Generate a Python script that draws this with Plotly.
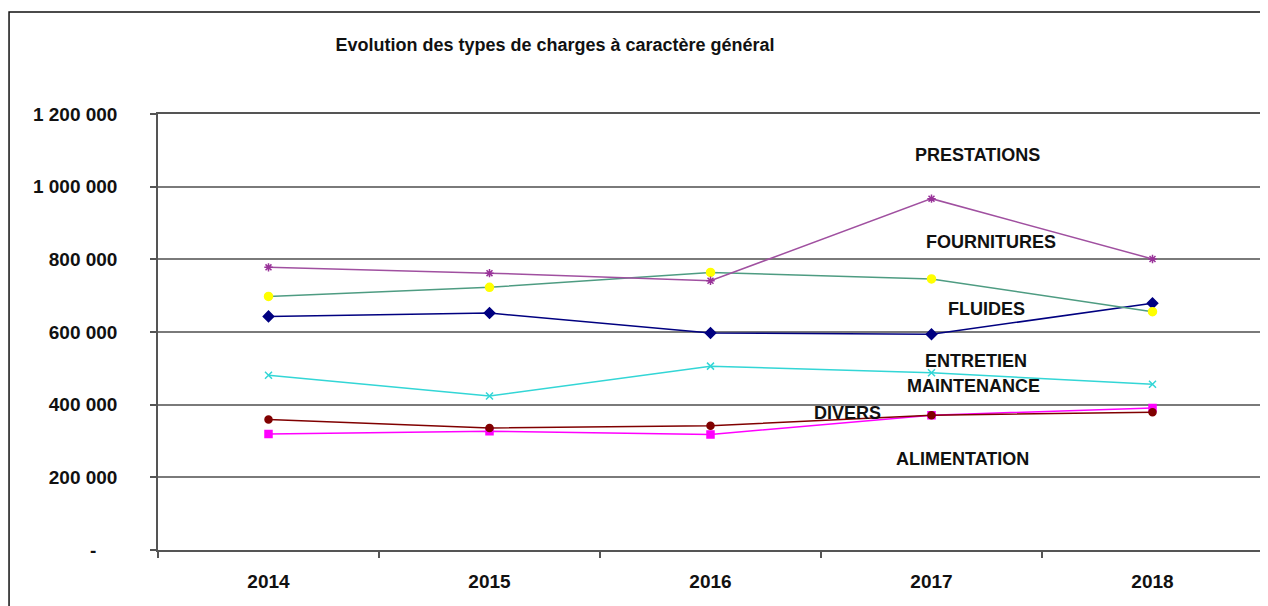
import plotly.graph_objects as go

years = ["2014", "2015", "2016", "2017", "2018"]

prestations = [778000, 762000, 741000, 967000, 801000]
fournitures = [698000, 723000, 764000, 746000, 656000]
fluides = [643000, 652000, 597000, 594000, 679000]
entretien = [481000, 424000, 506000, 488000, 456000]
divers = [359000, 336000, 342000, 371000, 379000]
alimentation = [319000, 327000, 318000, 371000, 391000]

y_tickvals = [0, 200000, 400000, 600000, 800000, 1000000, 1200000]
y_ticktext = ["-\u00a0\u00a0\u00a0\u00a0", "200 000", "400 000", "600 000", "800 000", "1 000 000", "1 200 000"]

series = [
    ("FLUIDES", fluides, "#000080", "#000080", "diamond", 8),
    ("ALIMENTATION", alimentation, "#FF00FF", "#FF00FF", "square", 7),
    ("FOURNITURES", fournitures, "#4E9C82", "#FFFF00", "circle", 8),
    ("ENTRETIEN MAINTENANCE", entretien, "#33D6D6", "#33D6D6", "x-thin-open", 7),
    ("PRESTATIONS", prestations, "#A050A0", "#993399", "asterisk-open", 7),
    ("DIVERS", divers, "#800000", "#800000", "circle", 7),
]

fig = go.Figure()
for name, vals, lc, mc, sym, sz in series:
    fig.add_trace(go.Scatter(
        x=years, y=vals, name=name, mode="lines+markers",
        line=dict(color=lc, width=1.5),
        marker=dict(color=mc, symbol=sym, size=sz, line=dict(color=mc, width=1.5)),
    ))

font_family = "Liberation Sans, Arial, sans-serif"

labels = [
    ("PRESTATIONS", 3.21, 1086000),
    ("FOURNITURES", 3.27, 848000),
    ("FLUIDES", 3.25, 663000),
    ("ENTRETIEN", 3.20, 519000),
    ("MAINTENANCE", 3.19, 452000),
    ("DIVERS", 2.62, 378000),
    ("ALIMENTATION", 3.14, 251000),
]
for txt, lx, ly in labels:
    fig.add_annotation(x=lx, y=ly, xref="x", yref="y", text="<b>" + txt + "</b>", showarrow=False,
                       font=dict(family=font_family, size=18, color="#111111"))

# outer chart frame
fig.add_shape(type="rect", xref="paper", yref="paper",
              x0=-0.1348, x1=1.05, y0=-0.3, y1=1.234,
              line=dict(color="#111111", width=1.5), layer="below")

fig.update_layout(
    width=1268, height=606,
    margin=dict(l=150, r=13, t=106, b=64),
    paper_bgcolor="white", plot_bgcolor="white",
    showlegend=False,
    separators=". ",
    title=dict(text="<b>Evolution des types de charges à caractère général</b>",
               x=547 / 1268, xref="container", xanchor="center",
               y=1 - 37 / 606, yref="container", yanchor="middle",
               font=dict(family=font_family, size=18, color="#111111")),
    font=dict(family=font_family, color="#111111"),
)

fig.update_xaxes(
    type="category", range=[-0.5, 4.5], automargin=False,
    showline=True, linecolor="#555555", linewidth=1.5, mirror=True,
    ticks="outside", tickson="boundaries", ticklen=6, tickcolor="#555555", tickwidth=1.5,
    showgrid=False, ticklabelstandoff=13,
    tickfont=dict(family=font_family, size=19, color="#111111"),
    tickprefix="<b>", ticksuffix="</b>",
)
fig.update_yaxes(
    range=[0, 1200000], tickvals=y_tickvals, ticktext=["<b>" + t + "</b>" for t in y_ticktext],
    automargin=False,
    showline=True, linecolor="#555555", linewidth=1.5, mirror=True,
    ticks="outside", ticklen=6, tickcolor="#555555", tickwidth=1.5,
    showgrid=True, gridcolor="#7a7a7a", gridwidth=1.5,
    zeroline=False, ticklabelstandoff=29,
    tickfont=dict(family=font_family, size=19, color="#111111"),
)

fig.write_html("out.html")
